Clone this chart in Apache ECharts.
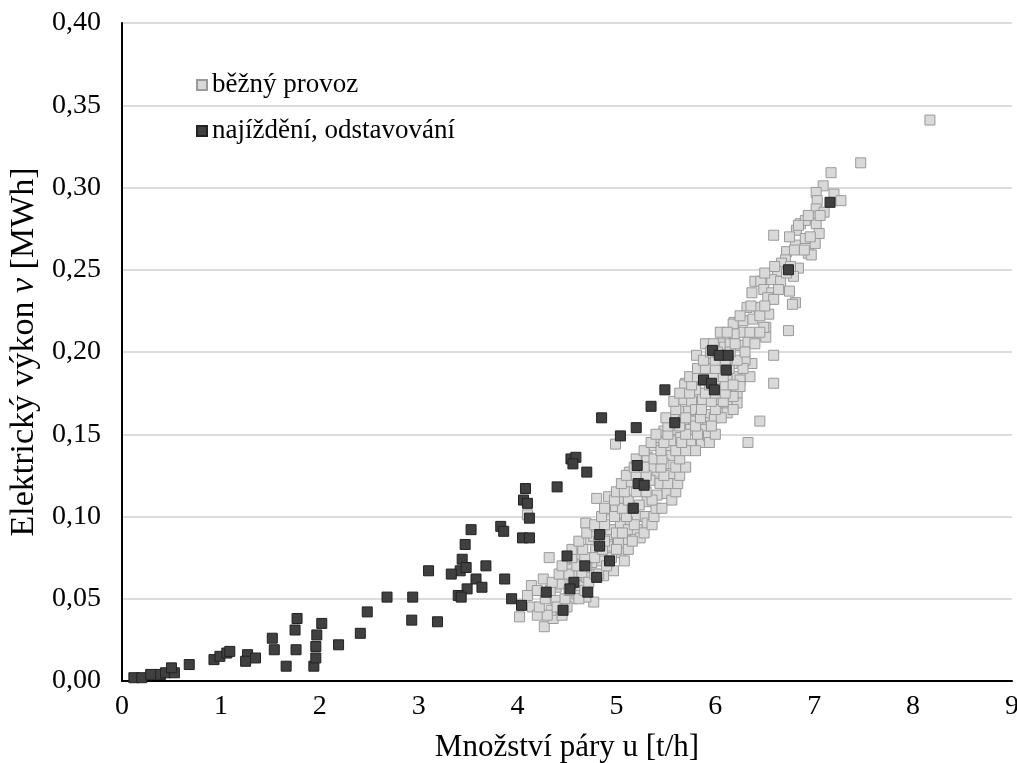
<!DOCTYPE html>
<html>
<head>
<meta charset="utf-8">
<script src="https://cdn.jsdelivr.net/npm/echarts@6/dist/echarts.min.js"></script>
<style>
  html, body { margin: 0; background: #fff; }
  #chart { width: 1017px; height: 763px; }
</style>
</head>
<body>
<div id="chart"></div>
<script>
// series names
const seriesNames = ["běžný provoz", "najíždění, odstavování"]

// běžný provoz [t/h, MWh]
const normalPoints = [
  [4.32,0.075],[4.14,0.058],[4.10,0.052],[4.15,0.045],[4.02,0.039],[4.27,0.033],[4.26,0.062],[4.36,0.038],
  [4.34,0.043],[4.39,0.049],[4.39,0.057],[4.43,0.059],[4.55,0.050],[4.60,0.053],[4.64,0.058],[4.48,0.069],
  [4.54,0.068],[4.62,0.077],[4.74,0.086],[4.77,0.048],[4.69,0.051],[4.84,0.073],[4.94,0.082],[5.01,0.086],
  [5.04,0.078],[4.97,0.067],[4.70,0.063],[4.75,0.072],[4.79,0.080],[4.59,0.064],[4.65,0.066],[4.87,0.064],
  [4.91,0.089],[5.09,0.088],[5.08,0.073],[4.10,0.101],
  [4.99,0.144],[4.80,0.111],[4.69,0.096],[4.92,0.112],[5.02,0.110],[4.91,0.104],[4.99,0.105],[5.08,0.102],
  [5.13,0.127],[5.14,0.121],[5.24,0.134],[5.31,0.136],[5.38,0.143],[5.44,0.148],[5.51,0.142],[5.55,0.137],
  [5.48,0.132],[5.41,0.127],[5.34,0.122],[5.51,0.114],[5.41,0.113],[5.31,0.109],[5.23,0.107],[5.28,0.100],
  [5.19,0.100],[5.11,0.097],[5.04,0.095],[4.94,0.092],[4.84,0.092],[4.77,0.088],[5.12,0.092],[5.21,0.092],
  [5.31,0.096],[5.11,0.085],[5.24,0.087],[5.02,0.084],[5.55,0.126],[5.44,0.120],[5.36,0.130],[5.48,0.152],
  [5.90,0.205],[5.81,0.198],[5.94,0.193],[6.05,0.189],[6.17,0.193],[6.19,0.209],[5.70,0.181],[5.80,0.177],
  [5.68,0.171],[5.76,0.170],[5.87,0.171],[6.05,0.178],[6.15,0.179],[6.12,0.168],[6.22,0.175],[5.63,0.164],
  [5.73,0.164],[5.80,0.165],[5.92,0.162],[6.03,0.163],[6.12,0.163],[5.58,0.159],[5.68,0.158],[5.78,0.158],
  [5.92,0.157],[5.99,0.160],[5.60,0.153],[5.75,0.153],[5.86,0.153],[5.55,0.146],[5.65,0.148],[5.75,0.144],
  [5.86,0.145],[5.93,0.149],[6.09,0.201],[6.05,0.205],[5.87,0.183],[6.12,0.185],[6.22,0.185],[6.22,0.169],
  [6.02,0.171],
  [6.59,0.271],[6.82,0.274],[6.86,0.278],[6.81,0.265],[6.72,0.261],[6.94,0.260],[6.71,0.256],[6.67,0.254],
  [6.63,0.249],[6.84,0.251],[6.79,0.246],[6.57,0.244],[6.66,0.243],[6.40,0.243],[6.46,0.243],[6.37,0.236],
  [6.49,0.238],[6.57,0.236],[6.64,0.238],[6.75,0.237],[6.81,0.230],[6.53,0.233],[6.59,0.232],[6.32,0.227],
  [6.44,0.227],[6.54,0.223],[6.19,0.218],[6.28,0.219],[6.38,0.220],[6.51,0.215],[6.74,0.213],[6.19,0.210],
  [6.28,0.212],[6.39,0.209],[6.51,0.209],[6.09,0.203],[6.15,0.205],[6.25,0.204],[6.33,0.206],
  [8.17,0.341],[7.47,0.315],[7.17,0.309],[7.09,0.301],[7.20,0.296],[7.27,0.292],[7.02,0.297],[7.03,0.292],
  [7.02,0.287],[7.10,0.285],[7.01,0.282],[6.91,0.280],[6.84,0.277],[7.02,0.278],[7.05,0.272],[6.91,0.269],
  [7.01,0.266],[6.97,0.259],
  [6.37,0.193],[6.30,0.195],[6.35,0.185],[6.25,0.183],[6.25,0.179],[6.33,0.145],[5.69,0.180],[6.45,0.158],
  [6.18,0.173],[6.18,0.217],[6.19,0.211],[6.59,0.198],[6.59,0.181],[6.49,0.215],[6.78,0.229],
  [4.20,0.040],[4.30,0.040],[4.45,0.040],[4.22,0.045],[4.40,0.045],[4.50,0.045],[4.28,0.050],[4.48,0.050],
  [4.62,0.050],[4.20,0.055],[4.33,0.055],[4.52,0.055],[4.68,0.055],[4.35,0.060],[4.55,0.060],[4.72,0.060],
  [4.42,0.065],[4.52,0.065],[4.78,0.065],[4.82,0.065],[4.45,0.070],[4.60,0.070],[4.70,0.070],[4.90,0.070],
  [4.55,0.075],[4.68,0.075],[4.78,0.075],[4.95,0.075],[4.55,0.080],[4.66,0.080],[4.86,0.080],[5.00,0.080],
  [5.12,0.080],[4.62,0.085],[4.82,0.085],[4.88,0.085],[5.16,0.085],[4.70,0.090],[5.00,0.090],[5.06,0.090],
  [5.28,0.090],[4.78,0.095],[4.88,0.095],[5.18,0.095],[5.36,0.095],[4.85,0.100],[4.98,0.100],[5.10,0.100],
  [5.38,0.100],[4.88,0.105],[5.06,0.105],[5.16,0.105],[5.40,0.105],[5.46,0.105],[4.98,0.110],[5.12,0.110],
  [5.36,0.110],[5.56,0.110],[5.00,0.115],[5.08,0.115],[5.20,0.115],[5.30,0.115],[5.60,0.115],[5.05,0.120],
  [5.22,0.120],[5.28,0.120],[5.52,0.120],[5.62,0.120],[5.10,0.125],[5.20,0.125],[5.30,0.125],[5.48,0.125],
  [5.64,0.125],[5.18,0.130],[5.28,0.130],[5.45,0.130],[5.60,0.130],[5.70,0.130],[5.20,0.135],[5.38,0.135],
  [5.46,0.135],[5.64,0.135],[5.28,0.140],[5.45,0.140],[5.60,0.140],[5.70,0.140],[5.80,0.140],[5.35,0.145],
  [5.48,0.145],[5.66,0.145],[5.94,0.145],[5.40,0.150],[5.52,0.150],[5.70,0.150],[5.82,0.150],[6.00,0.150],
  [5.52,0.155],[5.64,0.155],[5.80,0.155],[5.96,0.155],[5.50,0.160],[5.70,0.160],[5.85,0.160],[6.06,0.160],
  [5.60,0.165],[5.86,0.165],[6.00,0.165],[6.18,0.165],[5.58,0.170],[5.96,0.170],[6.08,0.170],[5.64,0.175],
  [5.74,0.175],[5.90,0.175],[6.00,0.175],[6.10,0.175],[5.76,0.180],[5.94,0.180],[6.10,0.180],[6.18,0.180],
  [5.74,0.185],[5.82,0.185],[5.98,0.185],[6.08,0.185],[5.82,0.190],[5.90,0.190],[6.00,0.190],[6.14,0.190],
  [6.28,0.190],[5.88,0.195],[6.00,0.195],[6.10,0.195],[6.22,0.195],[5.95,0.200],[6.02,0.200],[6.15,0.200],
  [6.30,0.200],[5.98,0.205],[6.20,0.205],[6.40,0.205],[6.05,0.212],[6.12,0.212],[6.35,0.212],[6.45,0.212],
  [6.25,0.222],[6.45,0.222],[6.36,0.228],[6.50,0.228],[6.50,0.248],[6.72,0.248],[6.60,0.252],[6.76,0.252],
  [6.80,0.262],[6.90,0.262],[6.75,0.270],[6.96,0.270],[6.94,0.283],[7.06,0.283]
]

// najíždění, odstavování [t/h, MWh]
const startupPoints = [
  [0.12,0.002],[0.20,0.002],[0.29,0.004],[0.39,0.004],[0.44,0.005],[0.53,0.005],[0.50,0.008],[0.68,0.010],
  [0.93,0.013],[0.99,0.015],[1.06,0.017],[1.09,0.018],[1.27,0.016],[1.25,0.012],[1.35,0.014],[1.52,0.026],
  [1.54,0.019],[1.66,0.009],[1.75,0.031],[1.77,0.038],[1.76,0.019],[1.94,0.009],[1.96,0.014],[1.96,0.021],
  [1.97,0.028],[2.02,0.035],[2.19,0.022],[2.41,0.029],[2.48,0.042],[2.68,0.051],[2.94,0.051],[2.93,0.037],
  [3.19,0.036],[3.10,0.067],
  [4.08,0.117],[4.06,0.110],[4.10,0.108],[4.12,0.099],[4.05,0.087],[4.12,0.087],[3.53,0.092],[3.83,0.094],
  [3.86,0.091],[3.47,0.083],[3.44,0.074],[3.42,0.067],[3.48,0.069],[3.33,0.065],[3.68,0.070],[3.58,0.062],
  [3.64,0.057],[3.49,0.056],[3.40,0.052],[3.43,0.051],[3.87,0.062],[3.94,0.050],[4.04,0.046],[4.29,0.054],
  [5.35,0.167],[4.85,0.160],[5.20,0.154],[5.04,0.149],[5.59,0.157],[4.54,0.135],[4.59,0.136],[4.56,0.132],
  [4.70,0.127],[4.40,0.118],[5.21,0.131],[5.22,0.120],[5.28,0.119],[5.17,0.105],[4.83,0.089],[4.83,0.082],
  [4.50,0.076],[4.93,0.073],[4.68,0.070],[4.80,0.063],[4.57,0.060],[4.53,0.056],[4.71,0.054],[4.46,0.043],
  [5.97,0.201],[6.04,0.198],[6.13,0.198],[6.11,0.189],[5.88,0.183],[5.96,0.181],[5.99,0.177],[5.49,0.177],
  [7.16,0.291],[6.74,0.250]
]

const xMin = 0, xMax = 9, xStep = 1
const yMin = 0, yMax = 0.4, yStep = 0.05

const font = "Liberation Serif"

const chart = echarts.init(document.getElementById("chart"))

const option = {
  animation: false,
  textStyle: { fontFamily: font },
  grid: {
    left: 122,
    right: 5,
    top: 23,
    bottom: 82,
    containLabel: false,
    outerBoundsMode: "none",
  },
  legend: {
    orient: "vertical",
    left: 191,
    top: 66,
    itemWidth: 10,
    itemHeight: 10,
    itemGap: 18,
    icon: "rect",
    textStyle: {
      fontFamily: font,
      fontSize: 27,
      color: "#000",
      lineHeight: 28,
    },
    data: seriesNames,
  },
  xAxis: {
    type: "value",
    min: xMin,
    max: xMax,
    interval: xStep,
    name: "Množství páry u [t/h]",
    nameLocation: "middle",
    nameGap: 51,
    nameTextStyle: { fontFamily: font, fontSize: 31, color: "#000" },
    axisLine: { lineStyle: { color: "#000", width: 2 } },
    axisTick: { show: false },
    axisLabel: { fontFamily: font, fontSize: 28, color: "#000", margin: 12 },
    splitLine: { show: false },
  },
  yAxis: {
    type: "value",
    min: yMin,
    max: yMax,
    interval: yStep,
    name: "Elektrický výkon {i|v} [MWh]",
    nameLocation: "middle",
    nameGap: 78,
    nameTextStyle: {
      fontFamily: font,
      fontSize: 34,
      color: "#000",
      rich: { i: { fontFamily: font, fontSize: 34, fontStyle: "italic", color: "#000" } },
    },
    axisLine: { show: true, lineStyle: { color: "#000", width: 2 } },
    axisTick: { show: false },
    axisLabel: {
      fontFamily: font,
      fontSize: 28,
      color: "#000",
      margin: 21,
      formatter: (v) => v.toFixed(2).replace(".", ","),
    },
    splitLine: { lineStyle: { color: "#d0d0d0", width: 1.5 } },
  },
  series: [
    {
      name: seriesNames[0],
      type: "scatter",
      symbol: "rect",
      symbolSize: 10,
      itemStyle: { color: "#d9d9d9", borderColor: "#9a9a9a", borderWidth: 1, opacity: 1 },
      data: normalPoints,
    },
    {
      name: seriesNames[1],
      type: "scatter",
      symbol: "rect",
      symbolSize: 10,
      itemStyle: { color: "#404040", borderColor: "#222", borderWidth: 1, opacity: 1 },
      data: startupPoints,
    },
  ],
}
chart.setOption(option)
</script>
</body>
</html>
